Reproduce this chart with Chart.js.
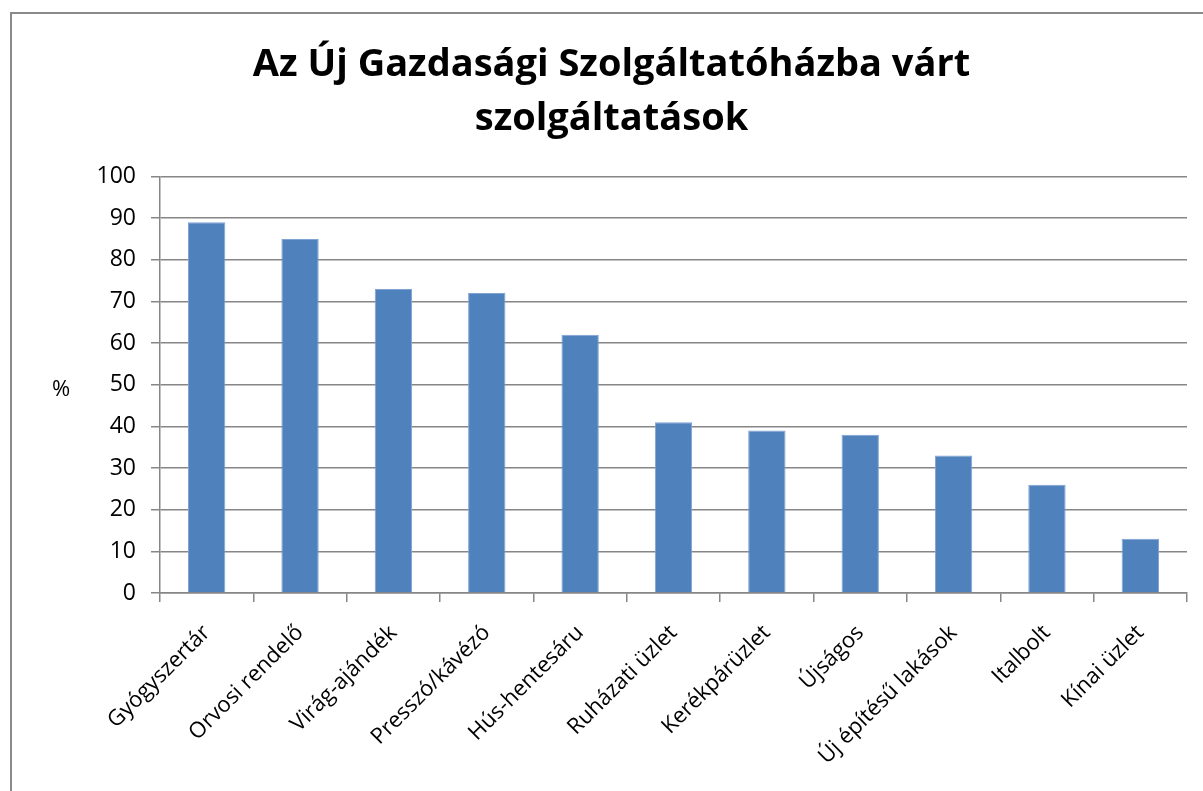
<!DOCTYPE html>
<html>
<head>
<meta charset="utf-8">
<script src="https://cdn.jsdelivr.net/npm/chart.js@4/dist/chart.umd.min.js"></script>
<style>
  html, body { margin: 0; padding: 0; background: #fff; overflow: hidden; }
  #wrap { position: relative; width: 1203px; height: 791px; }
  #frame { position: absolute; left: 10px; top: 12px; width: 1300px; height: 900px;
           border-left: 2px solid #8a8a8a; border-top: 2px solid #8a8a8a; box-sizing: border-box; }
  canvas { position: absolute; left: 0; top: 0; }
</style>
</head>
<body>
<div id="wrap">
  <div id="frame"></div>
  <canvas id="c" width="1203" height="791"></canvas>
</div>
<script>
const titleLines = ["Az Új Gazdasági Szolgáltatóházba várt", "szolgáltatások"];
const categories = ["Gyógyszertár", "Orvosi rendelő", "Virág-ajándék", "Presszó/kávézó", "Hús-hentesáru",
  "Ruházati üzlet", "Kerékpárüzlet", "Újságos", "Új építésű lakások", "Italbolt", "Kínai üzlet"];
const values = [89, 85, 73, 72, 62, 41, 39, 38, 33, 26, 13];
const yAxisLabel = "%";
const yMin = 0, yMax = 100, yStep = 10;

const FONT = "'Open Sans', 'DejaVu Sans', sans-serif";
const gridColor = '#868686';

const percentLabel = {
  id: 'percentLabel',
  afterDraw(chart) {
    const ctx = chart.ctx;
    const a = chart.chartArea;
    ctx.save();
    ctx.font = "22px " + FONT;
    ctx.fillStyle = '#000';
    ctx.textAlign = 'center';
    ctx.textBaseline = 'middle';
    ctx.fillText(yAxisLabel, 61, (a.top + a.bottom) / 2 + 5);
    ctx.restore();
  }
};

new Chart(document.getElementById('c'), {
  type: 'bar',
  data: {
    labels: categories,
    datasets: [{
      data: values,
      backgroundColor: '#4F81BD',
      borderColor: '#7fa3d3',
      borderWidth: 1,
      barPercentage: 0.8,
      categoryPercentage: 0.5
    }]
  },
  options: {
    responsive: false,
    animation: false,
    layout: { padding: { left: 36, right: 16, top: 0, bottom: 0 } },
    plugins: {
      legend: { display: false },
      tooltip: { enabled: false },
      title: {
        display: true,
        text: titleLines,
        color: '#000',
        font: { family: FONT, size: 38, weight: 'bold', lineHeight: 1.4 },
        padding: { top: 39, bottom: 31 }
      }
    },
    scales: {
      x: {
        afterFit(scale) { scale.height = 198; },
        grid: { offset: true, drawOnChartArea: false, drawTicks: true, tickLength: 9, color: gridColor, lineWidth: 1.5 },
        border: { display: true, color: gridColor, width: 1.5 },
        ticks: { color: '#000', font: { family: FONT, size: 22 }, minRotation: 45, maxRotation: 45, padding: 18, labelOffset: 0, autoSkip: false }
      },
      y: {
        min: yMin, max: yMax,
        afterFit(scale) { scale.width = 124; },
        grid: { color: gridColor, lineWidth: 1.5, tickLength: 9 },
        border: { display: true, color: gridColor, width: 1.5 },
        ticks: { stepSize: yStep, color: '#000', font: { family: FONT, size: 23 }, padding: 15 }
      }
    }
  },
  plugins: [percentLabel]
});
</script>
</body>
</html>
